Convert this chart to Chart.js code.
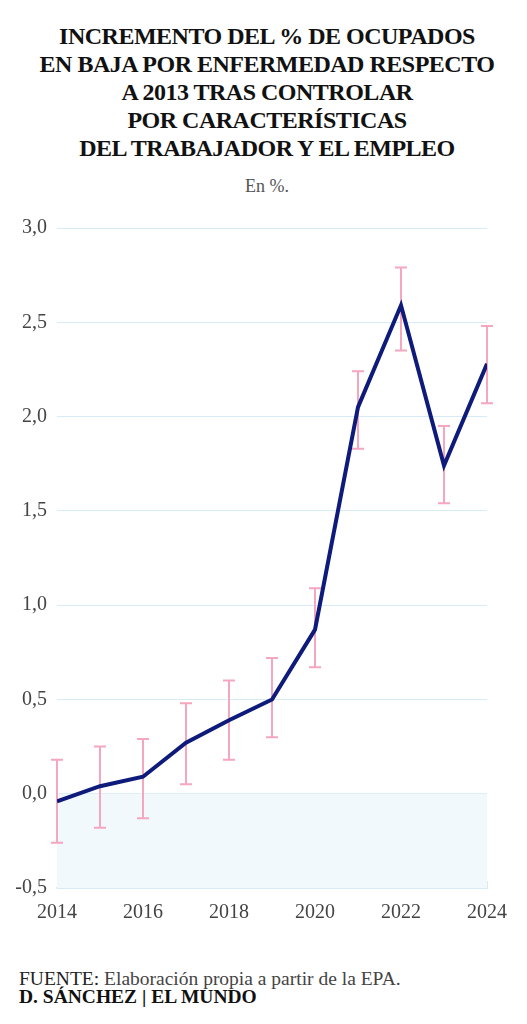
<!DOCTYPE html>
<html>
<head>
<meta charset="utf-8">
<script src="https://cdn.jsdelivr.net/npm/chart.js@4/dist/chart.umd.min.js"></script>
<style>
    body { margin: 0; width: 527px; height: 1024px; background: #fff; position: relative; overflow: hidden; font-family: "Liberation Serif", serif; }
    #title { position: absolute; top: 22px; left: 7px; width: 520px; text-align: center; font-family: "Liberation Serif", serif; font-weight: bold; font-size: 24px; letter-spacing: -0.5px; line-height: 28px; color: #111; }
    #sub { position: absolute; top: 176px; left: 7px; width: 520px; text-align: center; font-size: 18px; line-height: 20px; color: #555; }
    #wrap { position: absolute; top: 200px; left: 0; width: 527px; height: 730px; }
    #foot { position: absolute; top: 970px; left: 19px; font-size: 19.5px; line-height: 18px; color: #444; }
    #foot .src { color: #222; }
    #foot b { color: #111; }
</style>
</head>
<body>
<div id="title">INCREMENTO DEL % DE OCUPADOS<br>EN BAJA POR ENFERMEDAD RESPECTO<br>A 2013 TRAS CONTROLAR<br>POR CARACTERÍSTICAS<br>DEL TRABAJADOR Y EL EMPLEO</div>
<div id="sub">En %.</div>
<div id="wrap"><canvas id="chart"></canvas></div>
<div id="foot"><span class="src">FUENTE:</span> Elaboración propia a partir de la EPA.<br><b>D. SÁNCHEZ | EL MUNDO</b></div>
<script>
const years = [2014, 2015, 2016, 2017, 2018, 2019, 2020, 2021, 2022, 2023, 2024];
const values = [-0.04, 0.04, 0.09, 0.27, 0.39, 0.50, 0.87, 2.05, 2.59, 1.74, 2.28];
const errLow = [-0.26, -0.18, -0.13, 0.05, 0.18, 0.30, 0.67, 1.83, 2.35, 1.54, 2.07];
const errHigh = [0.18, 0.25, 0.29, 0.48, 0.60, 0.72, 1.09, 2.24, 2.79, 1.95, 2.48];
const yTicks = [-0.5, 0, 0.5, 1, 1.5, 2, 2.5, 3];

const gridBlue = '#d6ebf6';

// light blue band under zero
const negBand = {
    id: 'negBand',
    beforeDatasetsDraw(chart) {
        const { ctx, chartArea, scales } = chart;
        const y0 = scales.y.getPixelForValue(0);
        const yMin = scales.y.getPixelForValue(scales.y.min);
        ctx.save();
        ctx.fillStyle = '#f2f9fd';
        ctx.fillRect(chartArea.left, y0, chartArea.right - chartArea.left, yMin - y0);
        ctx.restore();
    }
};

// pink error bars from errLow / errHigh
const errorBars = {
    id: 'errorBars',
    beforeDatasetsDraw(chart) {
        const { ctx, scales } = chart;
        ctx.save();
        ctx.strokeStyle = '#f4a7bf';
        ctx.lineWidth = 2;
        years.forEach((yr, i) => {
            const x = scales.x.getPixelForValue(yr);
            const top = scales.y.getPixelForValue(errHigh[i]);
            const bot = scales.y.getPixelForValue(errLow[i]);
            ctx.beginPath();
            ctx.moveTo(x, top);
            ctx.lineTo(x, bot);
            ctx.moveTo(x - 6, top);
            ctx.lineTo(x + 6, top);
            ctx.moveTo(x - 6, bot);
            ctx.lineTo(x + 6, bot);
            ctx.stroke();
        });
        ctx.restore();
    }
};

new Chart(document.getElementById('chart'), {
    type: 'line',
    data: {
        datasets: [{
            data: years.map((yr, i) => ({ x: yr, y: values[i] })),
            borderColor: '#0e1b7b',
            borderWidth: 4,
            pointRadius: 0,
            tension: 0,
            fill: false
        }]
    },
    options: {
        responsive: true,
        maintainAspectRatio: false,
        animation: false,
        layout: { padding: { top: 28, right: 39, left: 0, bottom: 0 } },
        plugins: { legend: { display: false }, tooltip: { enabled: false } },
        scales: {
            x: {
                type: 'linear',
                min: 2014,
                max: 2024,
                afterFit(scale) { scale.height = 42; },
                grid: { drawOnChartArea: false, tickLength: -7, tickColor: gridBlue, lineWidth: 1 },
                border: { display: true, color: gridBlue, width: 1.5 },
                ticks: {
                    stepSize: 1,
                    autoSkip: false,
                    maxRotation: 0,
                    padding: 20,
                    color: '#444',
                    font: { family: 'Liberation Serif', size: 20 },
                    callback: v => (v % 2 === 0 ? String(v) : '')
                }
            },
            y: {
                min: -0.5,
                max: 3,
                afterFit(scale) { scale.width = 57; },
                afterBuildTicks(scale) { scale.ticks = yTicks.map(v => ({ value: v })); },
                grid: { color: gridBlue, drawTicks: false, lineWidth: 1 },
                border: { display: false },
                ticks: {
                    padding: 10,
                    color: '#444',
                    font: { family: 'Liberation Serif', size: 20 },
                    callback: v => v.toFixed(1).replace('.', ',')
                }
            }
        }
    },
    plugins: [negBand, errorBars]
});
</script>
</body>
</html>
